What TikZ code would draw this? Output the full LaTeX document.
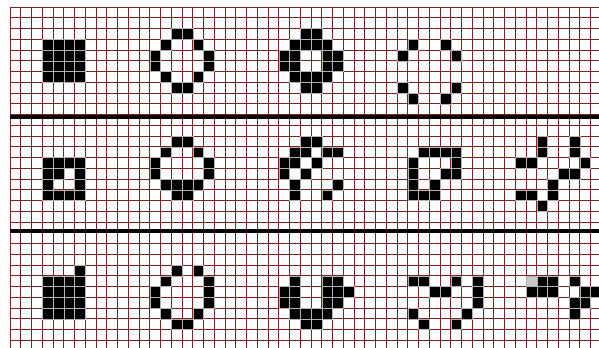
\documentclass[tikz,border=0pt]{standalone}
\usepackage{tikz}
\definecolor{gridred}{RGB}{125,35,35}
\definecolor{cellgray}{RGB}{200,200,200}

\begin{document}
\begin{tikzpicture}[x=1cm, y=-1cm,
    gridline/.style={draw=gridred, line width=1.8pt},
    sepline/.style={draw=black, line width=0.42cm},
    livecell/.style={fill=black, draw=gray!60, line width=1.2pt},
    greycell/.style={fill=cellgray, draw=gray!60, line width=1.2pt}
]
\useasboundingbox (-0.93,-0.651) rectangle (54.79,31.72);

% background grid
\foreach \i in {0,...,54}
  \draw [gridline] (\i,0) -- (\i,31.72);
\foreach \j in {0,...,31}
  \draw [gridline] (0,\j) -- (54.79,\j);

% solid blocks
\foreach \c in {3,...,6}
  \foreach \r in {3,...,6}
    \path [livecell] (\c,\r) rectangle ++(1,1);
\foreach \c in {3,...,6}
  \foreach \r in {25,...,28}
    \path [livecell] (\c,\r) rectangle ++(1,1);

% first band
\foreach \c/\r in {15/2,16/2,14/3,17/3,13/4,18/4,13/5,18/5,14/6,17/6,15/7,16/7,
    27/2,28/2,26/3,27/3,28/3,29/3,25/4,26/4,29/4,30/4,25/5,26/5,29/5,30/5,
    26/6,27/6,28/6,29/6,27/7,28/7,
    37/3,40/3,36/4,41/4,36/7,41/7,37/8,40/8}
  \path [livecell] (\c,\r) rectangle ++(1,1);

% second band
\foreach \c/\r in {3/14,4/14,5/14,6/14,3/15,4/15,6/15,3/16,6/16,3/17,4/17,5/17,6/17,
    15/12,16/12,14/13,17/13,13/14,18/14,13/15,18/15,14/16,15/16,16/16,17/16,15/17,16/17,
    27/12,28/12,26/13,27/13,29/13,30/13,25/14,26/14,28/14,25/15,27/15,26/16,30/16,26/17,29/17,
    38/13,39/13,40/13,41/13,37/14,41/14,37/15,40/15,41/15,37/16,39/16,37/17,38/17,39/17,
    49/12,52/12,49/13,52/13,47/14,48/14,53/14,51/15,52/15,50/16,47/17,48/17,50/17,49/18}
  \path [livecell] (\c,\r) rectangle ++(1,1);

% third band
\foreach \c/\r in {6/24,
    15/24,17/24,14/25,18/25,13/26,18/26,13/27,18/27,14/28,17/28,15/29,16/29,
    26/25,29/25,30/25,25/26,26/26,29/26,30/26,31/26,25/27,26/27,29/27,30/27,
    26/28,27/28,28/28,29/28,27/29,28/29,
    37/25,38/25,41/25,43/25,39/26,40/26,43/26,43/27,37/28,42/28,38/29,41/29,
    49/25,50/25,52/25,48/26,49/26,50/26,53/26,54/26,52/27,53/27,52/28}
  \path [livecell] (\c,\r) rectangle ++(1,1);
\path [greycell] (48,25) rectangle ++(1,1);

% band separators
\draw [sepline] (0,10.23) -- (54.79,10.23);
\draw [sepline] (0,20.84) -- (54.79,20.84);
\end{tikzpicture}
\end{document}
